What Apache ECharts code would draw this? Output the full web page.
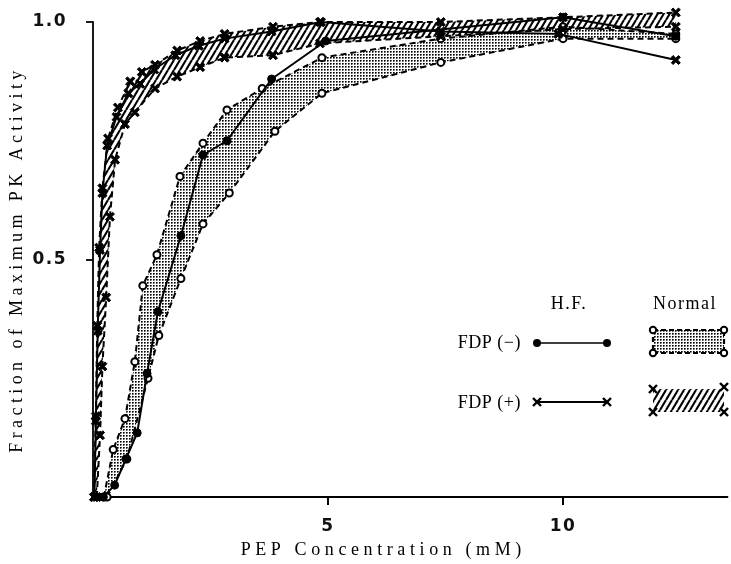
<!DOCTYPE html>
<html><head><meta charset="utf-8">
<script src="https://cdn.jsdelivr.net/npm/echarts@6/dist/echarts.min.js"></script>
<style>html,body{margin:0;padding:0;background:#fff}#c{width:731px;height:564px}</style>
</head><body><div id="c"></div>
<script>
// ---- data (PEP concentration in mM, fraction of max PK activity) ----
const hfMinusX = [0.22, 0.46, 0.70, 0.94, 1.15, 1.38, 1.87, 2.34, 2.85, 3.80, 4.95, 10.0, 12.4];
const hfMinusY = [0.00, 0.025, 0.08, 0.135, 0.26, 0.39, 0.55, 0.72, 0.75, 0.88, 0.96, 1.01, 0.97];

const hfPlusX = [0.03, 0.06, 0.10, 0.15, 0.20, 0.30, 0.50, 0.75, 1.00, 1.30, 1.75, 2.25, 2.80, 3.80, 4.85, 7.40, 9.90, 12.4];
const hfPlusY = [0.00, 0.16, 0.35, 0.52, 0.64, 0.74, 0.80, 0.85, 0.87, 0.90, 0.93, 0.95, 0.965, 0.98, 1.00, 0.98, 0.975, 0.92];

const normMinusUpX = [0.23, 0.43, 0.68, 0.89, 1.06, 1.36, 1.85, 2.34, 2.85, 3.60, 4.87, 7.40, 10.0, 12.4];
const normMinusUpY = [0.00, 0.10, 0.165, 0.285, 0.445, 0.51, 0.675, 0.745, 0.815, 0.86, 0.925, 0.965, 0.99, 0.975];
const normMinusLoX = [0.30, 0.72, 1.17, 1.40, 1.87, 2.34, 2.90, 3.87, 4.87, 7.40, 10.0, 12.4];
const normMinusLoY = [0.00, 0.08, 0.25, 0.34, 0.46, 0.575, 0.64, 0.77, 0.85, 0.915, 0.965, 0.965];

const normPlusUpX = [0.02, 0.06, 0.09, 0.13, 0.20, 0.32, 0.53, 0.79, 1.04, 1.32, 1.79, 2.28, 2.80, 3.83, 4.83, 7.40, 10.0, 12.4];
const normPlusUpY = [0.00, 0.17, 0.36, 0.525, 0.65, 0.755, 0.82, 0.875, 0.895, 0.91, 0.94, 0.96, 0.975, 0.99, 1.00, 1.00, 1.01, 1.02];
const normPlusLoX = [0.08, 0.15, 0.20, 0.28, 0.36, 0.47, 0.68, 0.89, 1.32, 1.79, 2.28, 2.80, 3.83, 4.83, 7.40, 10.0, 12.4];
const normPlusLoY = [0.00, 0.13, 0.275, 0.42, 0.59, 0.71, 0.785, 0.81, 0.86, 0.885, 0.905, 0.925, 0.93, 0.955, 0.97, 0.985, 0.99];

const xTickValues = [5, 10];
const xTickLabels = ['5', '10'];
const yTickValues = [0.5, 1.0];
const yTickLabels = ['0.5', '1.0'];

const xTitle = 'PEP Concentration (mM)';
const yTitle = 'Fraction of Maximum PK Activity';
const legendHeaders = ['H.F.', 'Normal'];
const legendRows = ['FDP (\u2212)', 'FDP (+)'];

// ---- letter spacing for the typeset serif texts ----
const spacingMap = {};
spacingMap[yTitle] = '4.4px';
spacingMap[xTitle] = '4.6px';
spacingMap[legendHeaders[0]] = '1.5px';
spacingMap[legendHeaders[1]] = '1.5px';
spacingMap[legendRows[0]] = '0.5px';
spacingMap[legendRows[1]] = '0.5px';
const origFill = CanvasRenderingContext2D.prototype.fillText;
CanvasRenderingContext2D.prototype.fillText = function (t, x, y, m) {
  const sp = spacingMap[t];
  if (sp && 'letterSpacing' in this) {
    const prev = this.letterSpacing;
    this.letterSpacing = sp;
    m === undefined ? origFill.call(this, t, x, y) : origFill.call(this, t, x, y, m);
    this.letterSpacing = prev;
  } else {
    m === undefined ? origFill.call(this, t, x, y) : origFill.call(this, t, x, y, m);
  }
};

// ---- fill patterns ----
function stipple() {
  const c = document.createElement('canvas'); c.width = 3; c.height = 3;
  const g = c.getContext('2d');
  g.fillStyle = '#fff'; g.fillRect(0, 0, 3, 3);
  g.fillStyle = '#000'; g.fillRect(0, 0, 1, 1);
  g.fillStyle = '#555'; g.fillRect(1, 0, 1, 1); g.fillRect(0, 1, 1, 1);
  g.fillStyle = '#aaa'; g.fillRect(1, 1, 1, 1);
  return { image: c, repeat: 'repeat' };
}
function hatch() {
  const c = document.createElement('canvas'); c.width = 6; c.height = 10;
  const g = c.getContext('2d');
  g.fillStyle = '#fff'; g.fillRect(0, 0, 6, 10);
  g.strokeStyle = '#000'; g.lineWidth = 2.1;
  for (const dx of [-6, 0, 6]) { g.beginPath(); g.moveTo(dx, 10); g.lineTo(dx + 6, 0); g.stroke(); }
  return { image: c, repeat: 'repeat' };
}
const STIP = stipple(), HATCH = hatch();

const XSYM = 'path://M2,0L5,3L8,0L10,2L7,5L10,8L8,10L5,7L2,10L0,8L3,5L0,2Z';

function pairs(xs, ys) { return xs.map((x, i) => [x, ys[i]]); }

function band(upX, upY, loX, loY, fill) {
  return {
    type: 'custom', coordinateSystem: 'cartesian2d', data: [[0, 0]], z: 1, silent: true, clip: false,
    renderItem: function (params, api) {
      const pts = [];
      for (let i = 0; i < upX.length; i++) pts.push(api.coord([upX[i], upY[i]]));
      for (let i = loX.length - 1; i >= 0; i--) pts.push(api.coord([loX[i], loY[i]]));
      return { type: 'polygon', shape: { points: pts }, style: { fill: fill, stroke: null } };
    }
  };
}
function edge(xs, ys, sym, size, dashed, width, z) {
  const empty = sym === 'emptyCircle';
  return {
    type: 'line', data: pairs(xs, ys), clip: false, z: z, silent: true,
    symbol: sym, symbolSize: size, showSymbol: true, showAllSymbol: true,
    itemStyle: empty ? { color: '#000', borderColor: '#000', borderWidth: 2 } : { color: '#000', borderColor: '#000', borderWidth: 1 },
    lineStyle: { color: '#000', width: width, type: dashed ? [6, 4] : 'solid' },
    animation: false
  };
}

const chart = echarts.init(document.getElementById('c'), null, { renderer: 'canvas' });

const serif = 'Liberation Serif';
const tickFont = { fontFamily: 'DejaVu Sans', fontSize: 17, fontWeight: 'bold', color: '#111' };

// legend graphics (pixel layout)
function xMark(cx, cy) {
  return { type: 'group', x: cx, y: cy, children: [
    { type: 'line', shape: { x1: -4, y1: -4, x2: 4, y2: 4 }, style: { stroke: '#000', lineWidth: 2.4 } },
    { type: 'line', shape: { x1: 4, y1: -4, x2: -4, y2: 4 }, style: { stroke: '#000', lineWidth: 2.4 } }
  ] };
}
function oMark(cx, cy) {
  return { type: 'circle', shape: { cx: cx, cy: cy, r: 3.2 }, style: { fill: '#fff', stroke: '#000', lineWidth: 2 } };
}
const lg = [
  { type: 'text', x: 569, y: 304, style: { text: legendHeaders[0], font: '18px "' + serif + '"', fill: '#000', textAlign: 'center', textVerticalAlign: 'middle' } },
  { type: 'text', x: 685, y: 304, style: { text: legendHeaders[1], font: '18px "' + serif + '"', fill: '#000', textAlign: 'center', textVerticalAlign: 'middle' } },
  { type: 'text', x: 521, y: 343, style: { text: legendRows[0], font: '18px "' + serif + '"', fill: '#000', textAlign: 'right', textVerticalAlign: 'middle' } },
  { type: 'text', x: 521, y: 403, style: { text: legendRows[1], font: '18px "' + serif + '"', fill: '#000', textAlign: 'right', textVerticalAlign: 'middle' } },
  { type: 'line', shape: { x1: 537, y1: 343, x2: 607, y2: 343 }, style: { stroke: '#000', lineWidth: 1.6 } },
  { type: 'circle', shape: { cx: 537, cy: 343, r: 4 }, style: { fill: '#000' } },
  { type: 'circle', shape: { cx: 607, cy: 343, r: 4 }, style: { fill: '#000' } },
  { type: 'line', shape: { x1: 537, y1: 402, x2: 607, y2: 402 }, style: { stroke: '#000', lineWidth: 2.2 } },
  xMark(537, 402), xMark(607, 402),
  { type: 'rect', shape: { x: 653, y: 330, width: 71, height: 23 }, style: { fill: STIP, stroke: '#000', lineWidth: 2.2, lineDash: [5, 3] } },
  oMark(653, 330), oMark(724, 330), oMark(653, 353), oMark(724, 353),
  { type: 'rect', shape: { x: 653, y: 389, width: 71, height: 23 }, style: { fill: HATCH, stroke: null } },
  xMark(653, 389), xMark(724, 387), xMark(653, 412), xMark(724, 412)
];

chart.setOption({
  animation: false,
  backgroundColor: '#fff',
  grid: { left: 93, top: 22, width: 634.5, height: 480, containLabel: false },
  xAxis: {
    type: 'value', min: 0, max: 13.5,
    name: xTitle, nameLocation: 'middle', nameGap: 44,
    nameTextStyle: { fontFamily: serif, fontSize: 18, color: '#000', padding: [0, 54, 0, 0] },
    axisLine: { show: true, onZero: false, lineStyle: { color: '#000', width: 1.8 } },
    axisTick: { show: true, customValues: xTickValues, length: 8, lineStyle: { color: '#000', width: 2 } },
    axisLabel: { customValues: xTickValues, formatter: v => xTickLabels[xTickValues.indexOf(v)] || '', margin: 21, ...tickFont },
    splitLine: { show: false }
  },
  yAxis: {
    type: 'value', min: 0, max: 1,
    name: yTitle, nameLocation: 'middle', nameGap: 67,
    nameTextStyle: { fontFamily: serif, fontSize: 18, color: '#000' },
    axisLine: { show: true, onZero: false, lineStyle: { color: '#000', width: 1.8 } },
    axisTick: { show: true, customValues: yTickValues, length: 7, lineStyle: { color: '#000', width: 1.8 } },
    axisLabel: { customValues: yTickValues, formatter: v => yTickLabels[yTickValues.indexOf(v)] || '', margin: 26, ...tickFont },
    splitLine: { show: false }
  },
  graphic: lg,
  series: [
    band(normMinusUpX, normMinusUpY, normMinusLoX, normMinusLoY, STIP),
    band(normPlusUpX, normPlusUpY, normPlusLoX, normPlusLoY, HATCH),
    edge(normMinusUpX, normMinusUpY, 'emptyCircle', 7, true, 2, 3),
    edge(normMinusLoX, normMinusLoY, 'emptyCircle', 7, true, 2, 3),
    edge(normPlusUpX, normPlusUpY, XSYM, 9, true, 2, 3),
    edge(normPlusLoX, normPlusLoY, XSYM, 9, true, 2, 3),
    edge(hfMinusX, hfMinusY, 'circle', 8, false, 2, 5),
    edge(hfPlusX, hfPlusY, XSYM, 9, false, 2, 5)
  ]
});
</script></body></html>
